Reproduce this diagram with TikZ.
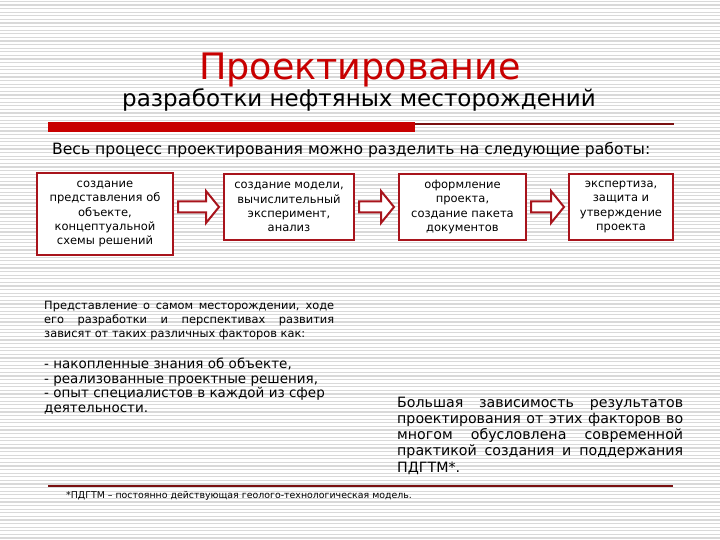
\documentclass[tikz,border=0pt]{standalone}
\usepackage{fontspec}
\setmainfont{DejaVu Sans}
\usetikzlibrary{calc}
\definecolor{tred}{HTML}{C80000}
\definecolor{bred}{HTML}{A8141C}
\definecolor{dred}{HTML}{7A1010}
\definecolor{stripe}{HTML}{D9D9D9}
\begin{document}
\begin{tikzpicture}[x=1pt,y=-1pt,
  stripeline/.style={draw=stripe,line width=1.2pt},
  stepbox/.style={draw=bred,line width=2pt,fill=white,inner sep=0pt,align=center,
    font=\fontsize{11.5}{14.2}\selectfont},
  blockarr/.style={draw=bred,line width=2pt,fill=white,line join=miter},
  txt/.style={inner sep=0pt,anchor=base west}]
\useasboundingbox (0,0) rectangle (720,540);
\fill[white] (0,0) rectangle (720,540);
\foreach \i in {0,...,150}{\draw[stripeline] (0,\i*3.6+1.5) -- (720,\i*3.6+1.5);}
% title
\node[inner sep=0pt,anchor=base,text=tred,font=\fontsize{36.5}{40}\selectfont] (title) at (360,80) {Проектирование};
\node[inner sep=0pt,anchor=base,font=\fontsize{23}{26}\selectfont] (sub) at (359,107) {разработки нефтяных месторождений};
\fill[tred] (48,122.5) rectangle (415,132);
\draw[dred,line width=1.5pt] (415,124) -- (674,124);
\node[txt,font=\fontsize{15.6}{18}\selectfont] (head) at (52,155) {Весь процесс проектирования можно разделить на следующие работы:};
% boxes
\node[stepbox,minimum width=136pt,minimum height=81pt] (b1) at (105,214) {создание\\представления об\\объекте,\\концептуальной\\схемы решений};
\node[stepbox,minimum width=130pt,minimum height=66pt] (b2) at (289,207) {создание модели,\\вычислительный\\эксперимент,\\анализ};
\node[stepbox,minimum width=127pt,minimum height=66pt] (b3) at (462.5,207) {оформление\\проекта,\\создание пакета\\документов};
\node[stepbox,minimum width=104pt,minimum height=66pt] (b4) at (621,207) {экспертиза,\\защита и\\утверждение\\проекта};
% arrows
\foreach \a/\b in {b1/b2,b2/b3,b3/b4}{
\draw[blockarr] let \p1=(\a.east), \p2=(\b.west) in
  (\x1+4pt,\y2+5.5pt) -- (\x2-17pt,\y2+5.5pt) -- (\x2-17pt,\y2+16pt) -- (\x2-4pt,\y2)
  -- (\x2-17pt,\y2-16pt) -- (\x2-17pt,\y2-5.5pt) -- (\x1+4pt,\y2-5.5pt) -- cycle;}
% left paragraph (anchor = baseline of last line)
\node[txt,align=left,font=\fontsize{11.4}{14}\selectfont] (lp) at (44,337)
 {\makebox[290pt][s]{Представление о самом месторождении, ходе}\\
  \makebox[290pt][s]{его разработки и перспективах развития}\\
  зависят от таких различных факторов как:};
\node[txt,align=left,font=\fontsize{13.5}{14.5}\selectfont] (list) at (44,412)
 {- накопленные знания об объекте,\\
  - реализованные проектные решения,\\
  - опыт специалистов в каждой из сфер\\
  деятельности.};
% right paragraph
\node[txt,align=left,font=\fontsize{14.2}{16.2}\selectfont] (rp) at (397,472)
 {\makebox[286pt][s]{Большая зависимость результатов}\\
  \makebox[286pt][s]{проектирования от этих факторов во}\\
  \makebox[286pt][s]{многом обусловлена современной}\\
  \makebox[286pt][s]{практикой создания и поддержания}\\
  ПДГТМ*.};
\draw[dred,line width=1.5pt] (48,486) -- (673,486);
\node[txt,font=\fontsize{9.4}{10}\selectfont] (foot) at (66,498.5) {*ПДГТМ – постоянно действующая геолого-технологическая модель.};
\end{tikzpicture}
\end{document}
